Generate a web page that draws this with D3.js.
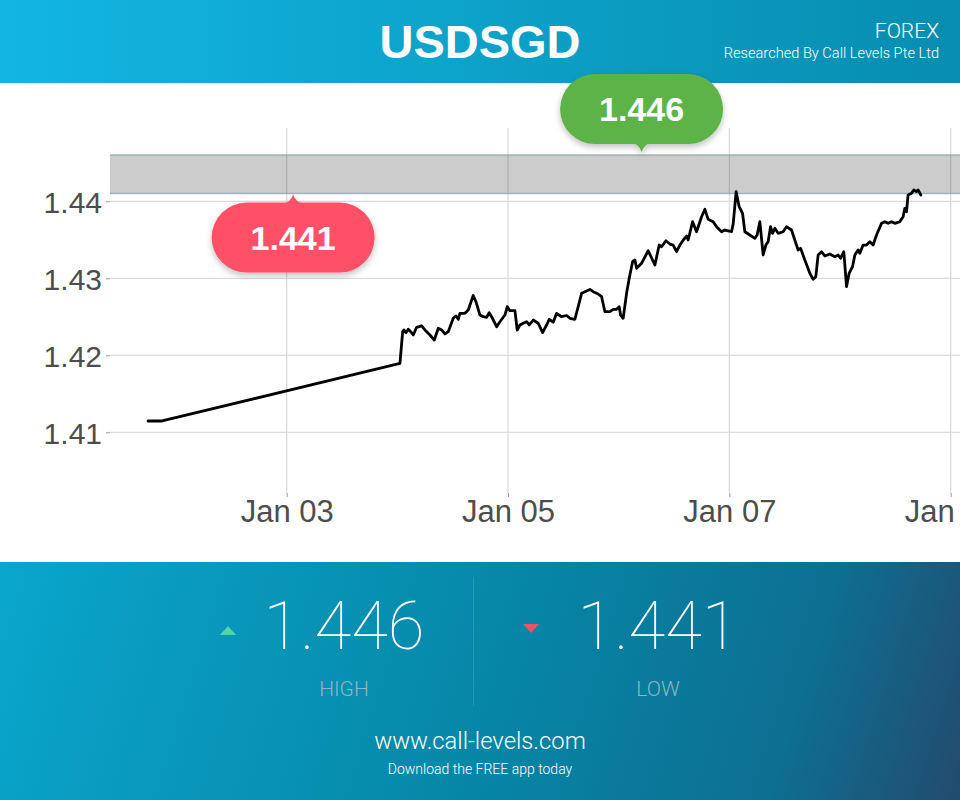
<!DOCTYPE html>
<html>
<head>
<meta charset="utf-8">
<script src="https://cdn.jsdelivr.net/npm/d3@7/dist/d3.min.js"></script>
<style>
  html, body { margin: 0; padding: 0; background: #fff; }
  svg { display: block; }
</style>
</head>
<body>
<svg id="chart" width="960" height="800"></svg>
<script>
// ---------------- DATA ----------------
const symbol = "USDSGD";
const assetClass = "FOREX";
const researcher = "Researched By Call Levels Pte Ltd";
const startDate = "2016-01-01T00:00:00Z";
// hours since startDate
const hoursFromStart = [
  17.93, 20.97, 72.56, 73.15, 73.43, 73.86, 74.36, 75.10, 75.45, 76.18,
  77.27, 77.98, 79.07, 80.00, 80.87, 81.60, 82.32, 83.03, 84.12, 84.70,
  85.20, 85.57, 86.66, 87.37, 88.45, 89.04, 89.91, 90.62, 91.36, 91.92,
  92.44, 93.53, 94.24, 95.33, 95.83, 96.41, 97.50, 97.99, 98.58, 99.29,
  100.03, 100.60, 101.46, 102.55, 103.50, 104.37, 104.93, 105.80, 106.54, 107.62,
  108.70, 109.42, 110.50, 111.96, 112.67, 113.76, 114.47, 115.55, 116.29, 117.01,
  118.09, 118.81, 119.54, 120.11, 120.41, 120.97, 121.71, 122.28, 122.43, 123.01,
  123.51, 123.88, 124.96, 126.40, 127.85, 128.78, 129.30, 130.23, 131.10, 131.81,
  132.55, 133.27, 134.13, 134.72, 135.07, 136.02, 136.89, 137.97, 138.69, 139.40,
  140.49, 141.22, 142.31, 143.02, 144.48, 144.82, 145.47, 146.12, 146.86, 147.36,
  148.44, 149.53, 150.03, 150.61, 151.33, 151.91, 152.41, 152.93, 153.36, 153.86,
  154.58, 155.66, 156.40, 157.48, 158.42, 158.92, 159.44, 160.37, 161.45, 162.17,
  162.75, 163.25, 163.99, 164.70, 165.79, 166.87, 167.59, 168.11, 168.82, 169.41,
  169.97, 170.71, 171.21, 171.92, 172.29, 173.01, 173.74, 174.46, 175.17, 175.91,
  177.00, 177.71, 178.43, 179.16, 179.88, 180.96, 181.68, 182.05, 182.42, 182.76,
  183.50, 184.00, 184.58, 184.93, 185.52
];
const prices = [
  1.41147, 1.41147, 1.41896, 1.42307, 1.42329, 1.42294, 1.42338, 1.42294, 1.42264, 1.42364,
  1.42381, 1.42329, 1.42264, 1.42199, 1.42351, 1.42329, 1.42277, 1.42307, 1.42481, 1.42510,
  1.42468, 1.42545, 1.42545, 1.42588, 1.42777, 1.42696, 1.42523, 1.42501, 1.42494, 1.42553,
  1.42501, 1.42371, 1.42436, 1.42523, 1.42631, 1.42579, 1.42579, 1.42329, 1.42394, 1.42416,
  1.42436, 1.42394, 1.42458, 1.42416, 1.42294, 1.42394, 1.42468, 1.42430, 1.42545, 1.42501,
  1.42517, 1.42481, 1.42468, 1.42805, 1.42826, 1.42855, 1.42826, 1.42796, 1.42761, 1.42566,
  1.42566, 1.42597, 1.42597, 1.42631, 1.42523, 1.42481, 1.42805, 1.43000, 1.43043, 1.43216,
  1.43238, 1.43130, 1.43195, 1.43358, 1.43173, 1.43432, 1.43410, 1.43488, 1.43445, 1.43432,
  1.43345, 1.43432, 1.43507, 1.43549, 1.43497, 1.43735, 1.43605, 1.43800, 1.43896, 1.43766,
  1.43735, 1.43670, 1.43605, 1.43627, 1.43605, 1.43705, 1.44125, 1.43930, 1.43844, 1.43605,
  1.43562, 1.43519, 1.43562, 1.43735, 1.43303, 1.43432, 1.43475, 1.43670, 1.43584, 1.43649,
  1.43584, 1.43605, 1.43670, 1.43627, 1.43455, 1.43368, 1.43390, 1.43238, 1.43065, 1.42987,
  1.43021, 1.43303, 1.43345, 1.43290, 1.43316, 1.43281, 1.43303, 1.43260, 1.43345, 1.42891,
  1.43065, 1.43151, 1.43303, 1.43368, 1.43325, 1.43432, 1.43432, 1.43475, 1.43432, 1.43562,
  1.43714, 1.43735, 1.43714, 1.43735, 1.43714, 1.43735, 1.43800, 1.43909, 1.43865, 1.44082,
  1.44104, 1.44147, 1.44125, 1.44147, 1.44082
];
const yTicks = [1.41, 1.42, 1.43, 1.44];
const xTickDates = ["2016-01-03", "2016-01-05", "2016-01-07", "2016-01-09"];
const highLevel = 1.446;
const lowLevel = 1.441;
const highCalloutHour = 124.96;  // where the green callout points
const lowCalloutHour = 49.4;     // where the red callout points
const statLabels = ["HIGH", "LOW"];
const website = "www.call-levels.com";
const tagline = "Download the FREE app today";

// ---------------- SETUP ----------------
const W = 960, H = 800;
const svg = d3.select("#chart");
const defs = svg.append("defs");
const base = new Date(startDate).getTime();
const toDate = h => new Date(base + h * 3600 * 1000);
const series = hoursFromStart.map((h, i) => ({ date: toDate(h), value: prices[i] }));

// gradients
const hg = defs.append("linearGradient").attr("id", "hdrGrad")
  .attr("x1", "0%").attr("y1", "0%").attr("x2", "100%").attr("y2", "0%");
hg.append("stop").attr("offset", "0%").attr("stop-color", "#12b6e2");
hg.append("stop").attr("offset", "100%").attr("stop-color", "#078db0");

const fg = defs.append("linearGradient").attr("id", "ftrGrad")
  .attr("gradientUnits", "userSpaceOnUse")
  .attr("x1", 0).attr("y1", 562).attr("x2", 960).attr("y2", 860);
fg.append("stop").attr("offset", "0%").attr("stop-color", "#0aa6cc");
fg.append("stop").attr("offset", "50%").attr("stop-color", "#0687a7");
fg.append("stop").attr("offset", "80%").attr("stop-color", "#0d6f92");
fg.append("stop").attr("offset", "100%").attr("stop-color", "#25476a");

const sh = defs.append("filter").attr("id", "shadow")
  .attr("x", "-20%").attr("y", "-30%").attr("width", "140%").attr("height", "170%");
sh.append("feDropShadow").attr("dx", 0).attr("dy", 3).attr("stdDeviation", 3)
  .attr("flood-color", "#000").attr("flood-opacity", 0.25);

// ---------------- HEADER ----------------
svg.append("rect").attr("x", 0).attr("y", 0).attr("width", W).attr("height", 83)
  .attr("fill", "url(#hdrGrad)");
svg.append("text").attr("x", 480).attr("y", 58).attr("text-anchor", "middle")
  .attr("font-family", "Liberation Sans, Arial, sans-serif").attr("font-weight", "bold")
  .attr("font-size", 47).attr("fill", "#fff").text(symbol);
svg.append("text").attr("x", 939).attr("y", 38).attr("text-anchor", "end")
  .attr("font-family", "Roboto, Liberation Sans, sans-serif").attr("font-weight", 300)
  .attr("font-size", 21).attr("fill", "#fff").text(assetClass);
svg.append("text").attr("x", 939).attr("y", 58).attr("text-anchor", "end")
  .attr("font-family", "Roboto, Liberation Sans, sans-serif").attr("font-weight", 300)
  .attr("font-size", 14.6).attr("fill", "#fff").text(researcher);

// ---------------- CHART ----------------
const plot = { left: 110, right: 960, top: 128, bottom: 493 };
const x = d3.scaleUtc()
  .domain([new Date("2016-01-03T00:00:00Z"), new Date("2016-01-09T00:00:00Z")])
  .range([286.7, 950.7]);
const y = d3.scaleLinear()
  .domain([1.402117, 1.44952])
  .range([plot.bottom, plot.top]);

const g = svg.append("g");
const xTicks = xTickDates.map(d => new Date(d + "T00:00:00Z"));

// horizontal grid
g.selectAll(".hgrid").data(yTicks).join("line")
  .attr("x1", plot.left).attr("x2", plot.right)
  .attr("y1", d => y(d)).attr("y2", d => y(d))
  .attr("stroke", "#dcdcdc").attr("stroke-width", 1.3);
// vertical grid
g.selectAll(".vgrid").data(xTicks).join("line")
  .attr("x1", d => x(d)).attr("x2", d => x(d))
  .attr("y1", plot.top).attr("y2", plot.bottom)
  .attr("stroke", "#dcdcdc").attr("stroke-width", 1.3);

// y axis labels + ticks
const yAxis = d3.axisLeft(y).tickValues(yTicks).tickSize(4).tickPadding(4)
  .tickFormat(d3.format(".2f"));
const yg = g.append("g").attr("transform", `translate(${plot.left},0)`).call(yAxis);
yg.select(".domain").remove();
yg.selectAll(".tick line").attr("stroke", "#9a9a9a");
yg.selectAll(".tick text").attr("font-family", "Liberation Sans, Arial, sans-serif")
  .attr("font-size", 30).attr("fill", "#4d4d4d").attr("dy", "0.36em");

// x axis labels + ticks
const xAxis = d3.axisBottom(x).tickValues(xTicks).tickSize(4).tickPadding(3)
  .tickFormat(d3.utcFormat("%b %d"));
const xg = g.append("g").attr("transform", `translate(0,${plot.bottom})`).call(xAxis);
xg.select(".domain").remove();
xg.selectAll(".tick line").attr("stroke", "#9a9a9a");
xg.selectAll(".tick text").attr("font-family", "Liberation Sans, Arial, sans-serif")
  .attr("font-size", 31).attr("fill", "#4d4d4d").attr("dy", "0.71em");

// band between low and high levels
g.append("rect")
  .attr("x", plot.left).attr("width", plot.right - plot.left)
  .attr("y", y(highLevel)).attr("height", y(lowLevel) - y(highLevel))
  .attr("fill", "#000").attr("fill-opacity", 0.2);
[highLevel, lowLevel].forEach(v => {
  g.append("line").attr("x1", plot.left).attr("x2", plot.right)
    .attr("y1", y(v)).attr("y2", y(v))
    .attr("stroke", "#8ea6b0").attr("stroke-width", 1.5).attr("stroke-opacity", 0.8);
});

// price line
const line = d3.line().x(d => x(d.date)).y(d => y(d.value));
g.append("path").datum(series).attr("d", line)
  .attr("fill", "none").attr("stroke", "#000").attr("stroke-width", 2.8)
  .attr("stroke-linejoin", "round").attr("stroke-linecap", "round");

// callouts
function callout(cx, tipY, dir, color, label) {
  const w = 163, h = 70, r = 35, pw = 11, ph = 8;
  const grp = svg.append("g").attr("filter", "url(#shadow)");
  let top;
  if (dir === "up") { top = tipY - ph - h; } else { top = tipY + ph; }
  grp.append("rect").attr("x", cx - w / 2).attr("y", top).attr("width", w).attr("height", h)
    .attr("rx", r).attr("ry", r).attr("fill", color);
  const py = dir === "up" ? top + h - 1 : top + 1;
  const p = d3.path();
  p.moveTo(cx - pw, py);
  p.quadraticCurveTo(cx - 3, py, cx, tipY);
  p.quadraticCurveTo(cx + 3, py, cx + pw, py);
  p.closePath();
  grp.append("path").attr("d", p.toString()).attr("fill", color);
  svg.append("text").attr("x", cx).attr("y", top + h / 2 + 12)
    .attr("text-anchor", "middle")
    .attr("font-family", "Liberation Sans, Arial, sans-serif").attr("font-weight", "bold")
    .attr("font-size", 34).attr("fill", "#fff").text(label);
}
callout(x(toDate(highCalloutHour)), y(highLevel) - 3, "up", "#5db346", d3.format(".3f")(highLevel));
callout(x(toDate(lowCalloutHour)), y(lowLevel) + 1, "down", "#fe5168", d3.format(".3f")(lowLevel));

// ---------------- FOOTER ----------------
svg.append("rect").attr("x", 0).attr("y", 562).attr("width", W).attr("height", H - 562)
  .attr("fill", "url(#ftrGrad)");
svg.append("line").attr("x1", 473.5).attr("x2", 473.5).attr("y1", 577).attr("y2", 706)
  .attr("stroke", "#fff").attr("stroke-opacity", 0.12);

const stats = [
  { value: highLevel, label: statLabels[0], cx: 344, tx: 228, up: true, color: "#4fd6ad" },
  { value: lowLevel, label: statLabels[1], cx: 658, tx: 531, up: false, color: "#f4506a" }
];
stats.forEach(s => {
  svg.append("text").attr("x", s.cx).attr("y", 649).attr("text-anchor", "middle")
    .attr("font-family", "Roboto, Lato, sans-serif").attr("font-weight", 100)
    .attr("font-size", 67).attr("fill", "#fff").text(d3.format(".3f")(s.value));
  svg.append("text").attr("x", s.cx).attr("y", 696).attr("text-anchor", "middle")
    .attr("font-family", "Roboto, Liberation Sans, sans-serif").attr("font-weight", 300)
    .attr("font-size", 21).attr("fill", "#86b9c9").text(s.label);
  const tri = s.up
    ? `M${s.tx - 8},${635} L${s.tx + 8},${635} L${s.tx},${626} Z`
    : `M${s.tx - 8},${624} L${s.tx + 8},${624} L${s.tx},${633} Z`;
  svg.append("path").attr("d", tri).attr("fill", s.color);
});

svg.append("text").attr("x", 480).attr("y", 749).attr("text-anchor", "middle")
  .attr("font-family", "Roboto, Liberation Sans, sans-serif").attr("font-weight", 300)
  .attr("font-size", 23.8).attr("fill", "#fff").text(website);
svg.append("text").attr("x", 480).attr("y", 774).attr("text-anchor", "middle")
  .attr("font-family", "Roboto, Liberation Sans, sans-serif").attr("font-weight", 300)
  .attr("font-size", 14).attr("fill", "#fff").text(tagline);
</script>
</body>
</html>
